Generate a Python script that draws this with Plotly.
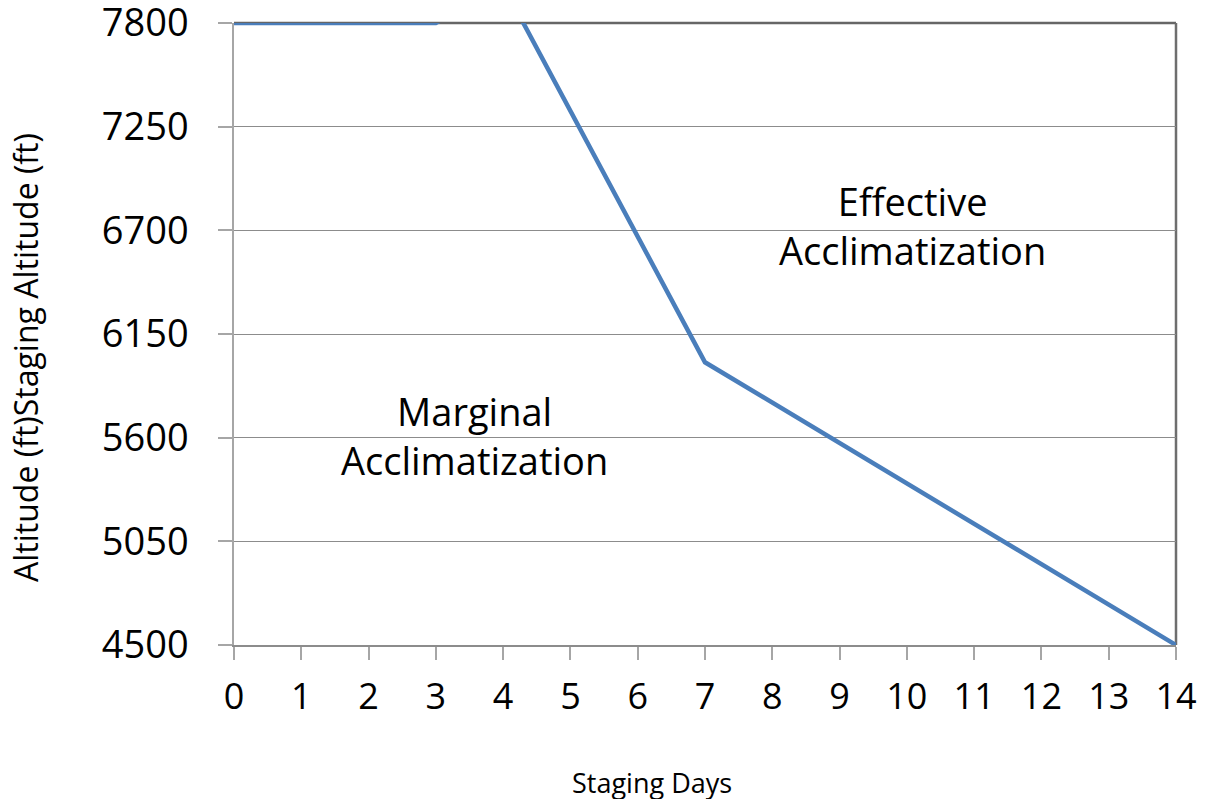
import plotly.graph_objects as go

days = [0, 3, 4, 7, 14]
altitude = [7800, 7800, 8000, 6000, 4500]
y_ticks = [4500, 5050, 5600, 6150, 6700, 7250, 7800]
x_ticks = list(range(0, 15))

FONT = "Open Sans"

W, H = 1206, 799
L, T, R, B = 234, 23, 1206 - 1176, 799 - 645
PW, PH = W - L - R, H - T - B


def px(xp):
    return (xp - L) / PW


def py(yp):
    return (H - B - yp) / PH


fig = go.Figure()
fig.add_trace(go.Scatter(
    x=days, y=altitude, mode="lines",
    line=dict(color="#4a7ebb", width=4.5),
    showlegend=False, hoverinfo="x+y",
))

fig.update_layout(
    template="none",
    width=W, height=H,
    margin=dict(l=L, r=R, t=T, b=B, autoexpand=False),
    paper_bgcolor="white", plot_bgcolor="white",
    font=dict(family=FONT, color="black"),
    xaxis=dict(
        range=[0, 14], tickvals=x_ticks, showgrid=False, zeroline=False,
        automargin=False,
        showline=True, linecolor="#8c8c8c", linewidth=2,
        ticks="outside", ticklen=13, tickcolor="#a6a6a6", tickwidth=1.5,
        tickfont=dict(size=36, family=FONT), ticklabelstandoff=6,
        ticklabeloverflow="allow",
    ),
    yaxis=dict(
        range=[4500, 7800], tickvals=y_ticks, showgrid=True,
        gridcolor="#8c8c8c", gridwidth=1, zeroline=False,
        automargin=False,
        showline=True, linecolor="#a6a6a6", linewidth=1.5,
        ticks="outside", ticklen=14, tickcolor="#a6a6a6", tickwidth=1.5,
        tickfont=dict(size=38, family=FONT), ticklabelstandoff=22,
        ticklabeloverflow="allow",
    ),
    shapes=[
        dict(type="line", xref="paper", yref="paper", x0=0, x1=1, y0=1, y1=1,
             line=dict(color="#666666", width=2.5), layer="below"),
        dict(type="line", xref="paper", yref="paper", x0=1, x1=1, y0=0, y1=1,
             line=dict(color="#6e6e6e", width=2.5), layer="below"),
    ],
    annotations=[
        dict(text="Effective<br>Acclimatization", x=10.08, y=6728, xref="x", yref="y",
             showarrow=False, font=dict(size=38, family=FONT), align="center"),
        dict(text="Marginal<br>Acclimatization", x=3.58, y=5609, xref="x", yref="y",
             showarrow=False, font=dict(size=38, family=FONT), align="center"),
        dict(text="Staging Days", x=px(652), y=py(782), xref="paper", yref="paper",
             xanchor="center", yanchor="middle", showarrow=False,
             font=dict(size=27, family=FONT)),
        dict(text="Altitude (ft)Staging Altitude (ft)", x=px(25), y=py(358),
             xref="paper", yref="paper", xanchor="center", yanchor="middle",
             textangle=-90, showarrow=False, font=dict(size=32, family=FONT)),
    ],
)

# remove the default 8px body margin so the 1206x799 figure fills the window exactly
fig.write_html("out.html", config={"displayModeBar": False},
               post_script="document.body.style.margin='0';")
